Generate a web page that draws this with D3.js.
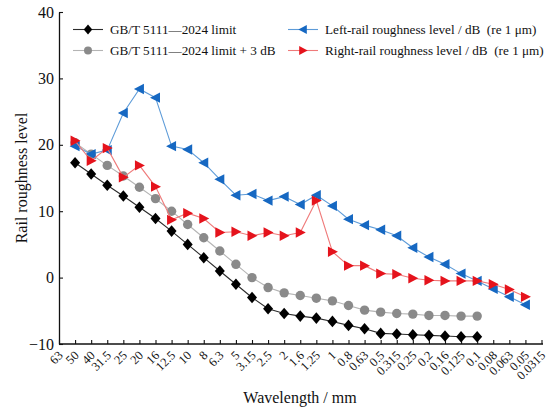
<!DOCTYPE html>
<html>
<head>
<meta charset="utf-8">
<script src="https://cdn.jsdelivr.net/npm/d3@7"></script>
<style>
  body { margin: 0; background: #fff; }
  svg { display: block; }
  svg text { font-family: "Times New Roman", "Liberation Serif", serif; }
</style>
</head>
<body>
<svg id="chart" width="550" height="412"></svg>
<script>
const serif = '"Times New Roman", "Liberation Serif", serif';

// wavelength categories (mm), one per tick
const wavelengths = ['63', '50', '40', '31.5', '25', '20', '16', '12.5', '10', '8', '6.3', '5',
    '3.15', '2.5', '2', '1.6', '1.25', '1', '0.8', '0.63', '0.5', '0.315', '0.25', '0.2',
    '0.16', '0.125', '0.1', '0.08', '0.063', '0.05', '0.0315'];

// series values start at 50 mm
const limitValues = [17.3, 15.6, 13.9, 12.3, 10.6, 8.9, 7.0, 5.0, 3.0, 1.0, -1.0, -3.0, -4.7,
    -5.4, -5.8, -6.1, -6.6, -7.2, -7.7, -8.4, -8.5, -8.6, -8.7, -8.8, -8.9, -8.9];
const limitPlus3Values = [20.3, 18.6, 16.9, 15.3, 13.6, 11.9, 10.0, 8.0, 6.0, 4.0, 2.0, 0.0,
    -1.5, -2.3, -2.7, -3.1, -3.5, -4.2, -4.9, -5.2, -5.4, -5.5, -5.7, -5.7, -5.8, -5.8];
const leftRailValues = [19.8, 18.6, 19.2, 24.8, 28.4, 27.1, 19.8, 19.3, 17.3, 14.8, 12.4, 12.6,
    11.6, 12.2, 11.0, 12.4, 10.8, 8.8, 7.9, 7.2, 6.3, 4.5, 3.1, 2.0, 0.6, -0.5, -1.7, -2.9, -4.1];
const rightRailValues = [20.6, 17.6, 19.5, 15.1, 16.9, 13.7, 8.7, 9.7, 8.9, 6.8, 6.9, 6.3,
    6.8, 6.3, 6.8, 11.6, 3.9, 1.8, 1.8, 0.6, 0.5, -0.1, -0.4, -0.5, -0.5, -0.5, -1.0, -1.8, -2.9];

const yTicks = [-10, 0, 10, 20, 30, 40];

const svg = d3.select('#chart');

const x = d3.scalePoint()
    .domain(wavelengths)
    .range([59, 541.5]);

const y = d3.scaleLinear()
    .domain([-10, 40])
    .range([344, 12]);

// Triangle / diamond paths centred on 0,0
const diamondPath = 'M0,-5.8L5,0L0,5.8L-5,0Z';
const leftTriPath = 'M-5.5,0L4.5,-5.2L4.5,5.2Z';
const rightTriPath = 'M5.5,0L-4.5,-5.2L-4.5,5.2Z';

const series = [
    { name: 'limit', values: limitValues, line: '#2b2b2b', fill: '#000', marker: 'diamond' },
    { name: 'limit3', values: limitPlus3Values, line: '#b4b4b4', fill: '#8a8a8a', marker: 'circle' },
    { name: 'left', values: leftRailValues, line: '#5d9bd8', fill: '#1668c2', marker: 'left' },
    { name: 'right', values: rightRailValues, line: '#ef7a7a', fill: '#e5131c', marker: 'right' }
];

function drawMarker(g, type, color) {
    if (type === 'circle') {
        g.append('circle').attr('r', 4.7).attr('fill', color);
    } else {
        const p = type === 'diamond' ? diamondPath : (type === 'left' ? leftTriPath : rightTriPath);
        g.append('path').attr('d', p).attr('fill', color);
    }
}

// Axes
const xAxis = svg.append('g')
    .attr('transform', `translate(0,${y(-10)})`)
    .call(d3.axisBottom(x).tickSize(-4).tickSizeOuter(0));
xAxis.attr('font-family', serif);
xAxis.select('.domain').attr('stroke', '#111').attr('stroke-width', 1.3)
    .attr('d', `M${x('63')},0H543`);
xAxis.selectAll('.tick line').attr('stroke', '#111').attr('stroke-width', 1.1);
xAxis.selectAll('.tick text')
    .attr('font-family', serif)
    .attr('font-size', 12.5)
    .attr('fill', '#111')
    .attr('text-anchor', 'end')
    .attr('x', 0)
    .attr('y', 0)
    .attr('dy', '0.35em')
    .attr('transform', 'translate(1,9) rotate(-45)');

const yAxis = svg.append('g')
    .attr('transform', `translate(${x('63')},0)`)
    .call(d3.axisLeft(y).tickValues(yTicks).tickSize(-4).tickSizeOuter(0)
        .tickFormat(d => d < 0 ? '\u2212' + Math.abs(d) : d));
yAxis.attr('font-family', serif);
yAxis.select('.domain').attr('stroke', '#111').attr('stroke-width', 1.3);
yAxis.selectAll('.tick line').attr('stroke', '#111').attr('stroke-width', 1.1);
yAxis.selectAll('.tick text')
    .attr('font-family', serif)
    .attr('font-size', 16)
    .attr('fill', '#111')
    .attr('x', -5);

// Axis titles
svg.append('text')
    .attr('transform', 'translate(27,178) rotate(-90)')
    .attr('text-anchor', 'middle')
    .attr('font-family', serif)
    .attr('font-size', 16)
    .attr('fill', '#111')
    .text('Rail roughness level');

svg.append('text')
    .attr('x', 300)
    .attr('y', 403)
    .attr('text-anchor', 'middle')
    .attr('font-family', serif)
    .attr('font-size', 16)
    .attr('fill', '#111')
    .text('Wavelength / mm');

// Lines and markers
const plot = svg.append('g');
series.forEach(s => {
    const pts = s.values.map((v, i) => ({ cat: wavelengths[i + 1], v }));
    plot.append('path')
        .datum(pts)
        .attr('fill', 'none')
        .attr('stroke', s.line)
        .attr('stroke-width', 1.1)
        .attr('d', d3.line().x(d => x(d.cat)).y(d => y(d.v)));
    pts.forEach(d => {
        const g = plot.append('g').attr('transform', `translate(${x(d.cat)},${y(d.v)})`);
        drawMarker(g, s.marker, s.fill);
    });
});

// Legend
const legendItems = [
    { s: series[0], label: 'GB/T 5111\u20142024 limit', lx: 73, ly: 29.5 },
    { s: series[1], label: 'GB/T 5111\u20142024 limit + 3 dB', lx: 73, ly: 50.5 },
    { s: series[2], label: 'Left-rail roughness level / dB  (re 1 \u03bcm)', lx: 288, ly: 29.5 },
    { s: series[3], label: 'Right-rail roughness level / dB  (re 1 \u03bcm)', lx: 288, ly: 50.5 }
];
legendItems.forEach(item => {
    const g = svg.append('g').attr('transform', `translate(${item.lx},${item.ly})`);
    g.append('line').attr('x1', 0).attr('x2', 30).attr('y1', 0).attr('y2', 0)
        .attr('stroke', item.s.line).attr('stroke-width', 1.1);
    const m = g.append('g').attr('transform', 'translate(15,0) scale(0.85)');
    drawMarker(m, item.s.marker, item.s.fill);
    g.append('text')
        .attr('x', 37)
        .attr('y', 0)
        .attr('dy', '0.35em')
        .attr('font-family', serif)
        .attr('font-size', 13.2)
        .attr('fill', '#111')
        .style('white-space', 'pre')
        .text(item.label);
});
</script>
</body>
</html>
